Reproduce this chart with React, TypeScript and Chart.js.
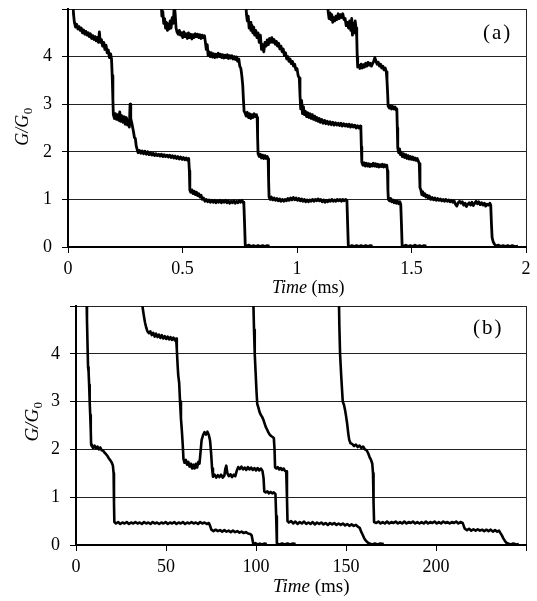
import React, { useEffect, useRef } from 'react';
import { Chart, registerables } from 'chart.js';

Chart.register(...registerables);

const FONT = '"Liberation Serif", "Times New Roman", serif';

// ---------- Panel (a): time in ms ----------
const aXTicks = [0, 0.5, 1, 1.5, 2];
const aXLabels = ['0', '0.5', '1', '1.5', '2'];
const aYTicks = [0, 1, 2, 3, 4, 5];
const aYLabels = ['0', '1', '2', '3', '4', ''];

const a1 = [[0.02,5.3],[0.024,4.9],[0.028,4.72],[0.033,4.62],[0.038,4.68],[0.043,4.58],[0.048,4.63],[0.053,4.55],[0.058,4.6],[0.063,4.5],[0.068,4.56],[0.073,4.47],[0.078,4.53],[0.083,4.45],[0.088,4.5],[0.093,4.42],[0.098,4.48],[0.103,4.38],[0.108,4.44],[0.113,4.36],[0.118,4.42],[0.123,4.33],[0.128,4.4],[0.133,4.3],[0.137,4.52],[0.141,4.3],[0.146,4.36],[0.151,4.22],[0.156,4.3],[0.161,4.15],[0.166,4.24],[0.171,4.08],[0.176,4.14],[0.181,3.98],[0.186,4.06],[0.19,3.95],[0.193,3.6],[0.196,3.1],[0.198,2.78],[0.203,2.7],[0.207,2.8],[0.212,2.68],[0.217,2.78],[0.222,2.66],[0.226,2.84],[0.23,2.64],[0.235,2.76],[0.24,2.62],[0.245,2.74],[0.25,2.58],[0.255,2.72],[0.26,2.56],[0.265,2.66],[0.268,2.52],[0.271,3.0],[0.274,2.7],[0.278,2.62],[0.282,2.52],[0.286,2.42],[0.29,2.3],[0.294,2.28],[0.298,2.12],[0.302,2.05],[0.306,1.98],[0.312,2.03],[0.318,1.97],[0.324,2.02],[0.33,1.96],[0.336,2.01],[0.342,1.95],[0.348,2.0],[0.354,1.94],[0.36,1.98],[0.366,1.93],[0.372,1.97],[0.378,1.92],[0.384,1.96],[0.39,1.92],[0.396,1.95],[0.402,1.91],[0.408,1.95],[0.414,1.9],[0.42,1.94],[0.426,1.9],[0.432,1.93],[0.438,1.89],[0.444,1.93],[0.45,1.88],[0.456,1.92],[0.462,1.87],[0.468,1.91],[0.474,1.86],[0.48,1.9],[0.486,1.85],[0.492,1.89],[0.498,1.84],[0.504,1.88],[0.51,1.83],[0.516,1.87],[0.522,1.82],[0.527,1.86],[0.53,1.6],[0.532,1.2],[0.536,1.15],[0.541,1.2],[0.546,1.12],[0.551,1.17],[0.556,1.1],[0.561,1.15],[0.566,1.08],[0.571,1.12],[0.576,1.05],[0.581,1.09],[0.586,1.0],[0.592,1.03],[0.598,0.96],[0.604,1.0],[0.61,0.95],[0.616,0.99],[0.622,0.94],[0.628,0.98],[0.634,0.94],[0.64,0.98],[0.646,0.93],[0.652,0.97],[0.658,0.94],[0.664,0.98],[0.67,0.93],[0.676,0.97],[0.682,0.94],[0.688,0.98],[0.694,0.93],[0.7,0.97],[0.706,0.92],[0.712,0.96],[0.718,0.93],[0.724,0.97],[0.73,0.92],[0.736,0.96],[0.742,0.93],[0.748,0.97],[0.754,0.94],[0.76,0.98],[0.765,0.94],[0.768,0.9],[0.771,0.5],[0.774,0.04],[0.78,0.02],[0.79,0.04],[0.8,0.01],[0.81,0.03],[0.82,0.01],[0.83,0.03],[0.84,0.01],[0.85,0.03],[0.86,0.01],[0.87,0.03],[0.88,0.02]];

const a2 = [[0.405,5.3],[0.41,4.85],[0.414,4.95],[0.418,4.7],[0.422,4.8],[0.426,4.6],[0.43,4.72],[0.434,4.55],[0.438,4.68],[0.442,4.58],[0.446,4.75],[0.45,4.6],[0.455,4.82],[0.46,4.7],[0.464,5.1],[0.468,4.9],[0.472,4.6],[0.476,4.52],[0.481,4.47],[0.486,4.55],[0.491,4.45],[0.496,4.5],[0.501,4.4],[0.506,4.52],[0.511,4.42],[0.516,4.48],[0.521,4.38],[0.526,4.5],[0.531,4.4],[0.536,4.47],[0.541,4.37],[0.546,4.46],[0.551,4.4],[0.556,4.48],[0.561,4.42],[0.566,4.47],[0.571,4.4],[0.576,4.46],[0.581,4.38],[0.586,4.45],[0.591,4.4],[0.596,4.44],[0.6,4.3],[0.604,4.15],[0.608,4.25],[0.612,4.02],[0.616,4.1],[0.621,4.0],[0.626,4.08],[0.631,3.99],[0.636,4.06],[0.641,3.98],[0.646,4.05],[0.651,3.99],[0.656,4.07],[0.661,4.0],[0.666,4.05],[0.671,3.98],[0.676,4.04],[0.681,3.97],[0.686,4.03],[0.691,3.98],[0.696,4.04],[0.701,3.96],[0.706,4.02],[0.711,3.97],[0.716,4.02],[0.721,3.95],[0.726,4.0],[0.731,3.94],[0.736,3.99],[0.741,3.9],[0.746,3.95],[0.75,3.8],[0.755,3.75],[0.759,3.6],[0.763,3.4],[0.766,3.1],[0.769,2.85],[0.773,2.82],[0.778,2.75],[0.783,2.83],[0.788,2.72],[0.793,2.8],[0.798,2.7],[0.803,2.78],[0.808,2.72],[0.813,2.8],[0.818,2.74],[0.823,2.78],[0.826,2.72],[0.828,2.3],[0.83,1.96],[0.835,1.9],[0.84,1.95],[0.845,1.87],[0.85,1.93],[0.855,1.86],[0.86,1.92],[0.865,1.86],[0.87,1.9],[0.874,1.85],[0.876,1.4],[0.878,1.05],[0.883,1.0],[0.888,1.05],[0.894,0.99],[0.9,1.03],[0.906,0.98],[0.912,1.02],[0.918,0.97],[0.924,1.01],[0.93,0.96],[0.936,1.0],[0.942,0.96],[0.948,1.0],[0.954,0.97],[0.96,1.02],[0.966,0.98],[0.972,1.03],[0.978,0.99],[0.984,1.04],[0.99,0.99],[0.996,1.03],[1.002,0.98],[1.008,1.02],[1.014,0.97],[1.02,1.01],[1.026,0.96],[1.032,1.0],[1.038,0.95],[1.044,0.99],[1.05,0.95],[1.056,0.99],[1.062,0.96],[1.068,1.0],[1.074,0.96],[1.08,1.0],[1.086,0.97],[1.092,1.01],[1.098,0.97],[1.104,1.0],[1.11,0.95],[1.116,0.99],[1.122,0.94],[1.128,0.98],[1.134,0.95],[1.14,0.99],[1.146,0.96],[1.152,1.0],[1.158,0.96],[1.164,0.99],[1.17,0.96],[1.176,1.0],[1.182,0.97],[1.188,1.0],[1.194,0.96],[1.2,1.0],[1.206,0.97],[1.212,1.0],[1.218,0.98],[1.221,0.5],[1.224,0.03],[1.23,0.01],[1.24,0.03],[1.25,0.01],[1.26,0.03],[1.27,0.01],[1.28,0.03],[1.29,0.01],[1.3,0.03],[1.31,0.01],[1.32,0.03],[1.33,0.02]];

const a3 = [[0.775,5.3],[0.779,4.9],[0.783,4.75],[0.787,4.85],[0.791,4.6],[0.795,4.72],[0.799,4.55],[0.803,4.66],[0.807,4.5],[0.811,4.62],[0.815,4.45],[0.82,4.55],[0.825,4.4],[0.83,4.5],[0.835,4.3],[0.84,4.45],[0.845,4.15],[0.85,4.25],[0.855,4.1],[0.86,4.3],[0.865,4.22],[0.87,4.35],[0.875,4.25],[0.88,4.38],[0.885,4.3],[0.89,4.4],[0.895,4.3],[0.9,4.36],[0.905,4.26],[0.91,4.32],[0.915,4.22],[0.92,4.28],[0.925,4.16],[0.93,4.22],[0.935,4.1],[0.94,4.16],[0.945,4.02],[0.95,4.08],[0.955,3.95],[0.96,4.0],[0.965,3.9],[0.97,3.95],[0.975,3.85],[0.98,3.9],[0.985,3.8],[0.99,3.84],[0.995,3.72],[1.0,3.75],[1.005,3.6],[1.01,3.55],[1.013,3.2],[1.016,2.9],[1.02,3.08],[1.024,2.8],[1.028,2.95],[1.032,2.78],[1.037,2.85],[1.042,2.74],[1.047,2.82],[1.052,2.72],[1.057,2.8],[1.062,2.7],[1.067,2.78],[1.072,2.68],[1.077,2.75],[1.082,2.66],[1.087,2.72],[1.092,2.64],[1.097,2.7],[1.102,2.62],[1.108,2.68],[1.114,2.6],[1.12,2.66],[1.126,2.59],[1.132,2.64],[1.138,2.58],[1.144,2.63],[1.15,2.57],[1.156,2.62],[1.162,2.56],[1.168,2.61],[1.174,2.56],[1.18,2.6],[1.186,2.55],[1.192,2.6],[1.198,2.54],[1.204,2.59],[1.21,2.54],[1.216,2.58],[1.222,2.53],[1.228,2.58],[1.234,2.52],[1.24,2.57],[1.246,2.52],[1.252,2.56],[1.258,2.5],[1.264,2.55],[1.27,2.5],[1.276,2.54],[1.279,2.48],[1.281,2.1],[1.283,1.78],[1.288,1.72],[1.293,1.77],[1.298,1.7],[1.303,1.76],[1.308,1.7],[1.313,1.75],[1.318,1.69],[1.323,1.74],[1.328,1.7],[1.333,1.76],[1.338,1.7],[1.343,1.75],[1.348,1.69],[1.353,1.74],[1.358,1.68],[1.363,1.73],[1.368,1.69],[1.373,1.74],[1.378,1.68],[1.383,1.73],[1.388,1.69],[1.392,1.72],[1.395,1.6],[1.397,1.2],[1.399,1.0],[1.404,0.97],[1.409,1.02],[1.414,0.95],[1.419,0.99],[1.424,0.93],[1.429,0.97],[1.434,0.92],[1.439,0.96],[1.444,0.91],[1.449,0.95],[1.453,0.9],[1.456,0.5],[1.459,0.03],[1.465,0.01],[1.475,0.04],[1.485,0.01],[1.495,0.03],[1.505,0.01],[1.515,0.04],[1.525,0.01],[1.535,0.03],[1.545,0.01],[1.555,0.03],[1.565,0.02]];

const a4 = [[1.133,5.3],[1.136,4.95],[1.14,4.8],[1.144,4.92],[1.148,4.78],[1.152,4.88],[1.156,4.72],[1.16,4.82],[1.165,4.75],[1.17,4.85],[1.175,4.78],[1.18,4.9],[1.185,4.8],[1.19,4.88],[1.195,4.82],[1.2,4.9],[1.205,4.78],[1.21,4.8],[1.215,4.65],[1.22,4.72],[1.225,4.6],[1.23,4.75],[1.235,4.55],[1.239,4.8],[1.242,4.45],[1.246,4.7],[1.25,4.5],[1.254,4.75],[1.258,4.6],[1.261,4.4],[1.263,4.0],[1.265,3.78],[1.27,3.82],[1.275,3.75],[1.28,3.84],[1.285,3.76],[1.29,3.83],[1.295,3.78],[1.3,3.86],[1.305,3.8],[1.31,3.88],[1.315,3.82],[1.32,3.86],[1.325,3.8],[1.33,3.85],[1.335,3.9],[1.34,3.98],[1.345,3.9],[1.35,3.84],[1.355,3.88],[1.36,3.8],[1.365,3.84],[1.37,3.76],[1.375,3.8],[1.38,3.72],[1.385,3.76],[1.39,3.68],[1.393,3.5],[1.396,3.2],[1.398,2.96],[1.403,2.92],[1.408,2.97],[1.413,2.9],[1.418,2.95],[1.423,2.9],[1.428,2.94],[1.433,2.88],[1.436,2.9],[1.438,2.5],[1.44,2.08],[1.444,1.98],[1.448,2.06],[1.452,1.94],[1.456,1.98],[1.46,1.9],[1.465,1.96],[1.47,1.88],[1.475,1.94],[1.48,1.86],[1.485,1.92],[1.49,1.85],[1.495,1.9],[1.5,1.84],[1.505,1.89],[1.51,1.83],[1.515,1.87],[1.52,1.82],[1.525,1.86],[1.53,1.8],[1.534,1.75],[1.537,1.25],[1.541,1.2],[1.545,1.1],[1.549,1.16],[1.553,1.08],[1.558,1.12],[1.563,1.05],[1.568,1.09],[1.573,1.03],[1.578,1.07],[1.584,1.0],[1.59,1.04],[1.596,0.99],[1.602,1.03],[1.608,0.98],[1.614,1.02],[1.62,0.98],[1.626,1.01],[1.632,0.97],[1.638,1.0],[1.644,0.96],[1.65,1.0],[1.656,0.96],[1.662,0.99],[1.668,0.95],[1.674,0.98],[1.68,0.94],[1.686,0.97],[1.692,0.9],[1.698,0.86],[1.704,0.93],[1.71,0.96],[1.716,0.92],[1.722,0.95],[1.728,0.88],[1.734,0.92],[1.74,0.85],[1.746,0.9],[1.752,0.93],[1.758,0.88],[1.764,0.94],[1.77,0.87],[1.776,0.92],[1.782,0.96],[1.788,0.91],[1.794,0.95],[1.8,0.89],[1.806,0.93],[1.812,0.88],[1.818,0.92],[1.824,0.86],[1.83,0.9],[1.836,0.88],[1.842,0.92],[1.846,0.88],[1.849,0.5],[1.852,0.2],[1.856,0.12],[1.862,0.06],[1.87,0.02],[1.88,0.04],[1.89,0.01],[1.9,0.03],[1.91,0.01],[1.92,0.03],[1.93,0.01],[1.94,0.03],[1.95,0.01],[1.965,0.02]];

// ---------- Panel (b): time in ms ----------
const bXTicks = [0, 50, 100, 150, 200, 250];
const bXLabels = ['0', '50', '100', '150', '200', ''];
const bYTicks = [0, 1, 2, 3, 4, 5];
const bYLabels = ['0', '1', '2', '3', '4', ''];

const b1 = [[5.8,5.3],[6.1,4.7],[6.4,4.2],[6.7,3.72],[7.0,3.62],[7.3,3.35],[7.6,3.0],[7.9,2.72],[8.2,2.4],[8.4,2.1],[8.8,2.07],[9.5,2.03],[10.3,2.08],[11.1,2.02],[11.9,2.06],[12.7,2.0],[13.5,2.04],[14.3,1.98],[15.1,1.97],[15.9,1.93],[16.7,1.9],[17.5,1.86],[18.3,1.81],[19.1,1.77],[19.9,1.72],[20.5,1.66],[20.9,1.5],[21.1,0.9],[21.3,0.48],[22.2,0.45],[23.4,0.48],[24.6,0.44],[25.8,0.47],[27,0.45],[28.2,0.48],[29.4,0.44],[30.6,0.47],[31.8,0.45],[33,0.48],[34.2,0.45],[35.4,0.47],[36.6,0.44],[37.8,0.48],[39,0.45],[40.2,0.47],[41.4,0.44],[42.6,0.48],[43.8,0.45],[45,0.47],[46.2,0.44],[47.4,0.47],[48.6,0.45],[49.8,0.48],[51,0.44],[52.2,0.47],[53.4,0.45],[54.6,0.48],[55.8,0.44],[57,0.47],[58.2,0.45],[59.4,0.48],[60.6,0.44],[61.8,0.47],[63,0.45],[64.2,0.48],[65.4,0.45],[66.6,0.47],[67.8,0.44],[69,0.48],[70.2,0.45],[71.4,0.47],[72.6,0.44],[73.8,0.46],[74.5,0.4],[75.2,0.32],[76.4,0.29],[77.6,0.32],[78.8,0.29],[80,0.31],[81.2,0.28],[82.4,0.31],[83.6,0.28],[84.8,0.3],[86,0.27],[87.2,0.3],[88.4,0.27],[89.6,0.29],[90.8,0.26],[92,0.28],[93.2,0.25],[94.4,0.27],[95.6,0.24],[96.8,0.23],[97.6,0.2],[98.1,0.1],[98.5,0.02],[99.7,0.04],[100.9,0.01],[102.1,0.03],[103.3,0.01],[104.5,0.03],[106,0.02]];

const b2 = [[36.3,5.3],[36.9,5.0],[37.6,4.82],[38.3,4.66],[39.0,4.55],[39.7,4.47],[40.5,4.43],[41.3,4.47],[42.1,4.39],[42.9,4.44],[43.7,4.36],[44.5,4.42],[45.3,4.35],[46.1,4.4],[46.9,4.33],[47.7,4.39],[48.5,4.32],[49.3,4.37],[50.1,4.31],[50.9,4.36],[51.7,4.3],[52.5,4.35],[53.3,4.29],[54.1,4.34],[54.9,4.28],[55.6,4.32],[56.0,4.1],[56.4,3.8],[56.8,3.55],[57.3,3.4],[57.8,3.0],[58.3,2.65],[58.8,2.4],[59.3,2.1],[59.7,1.8],[60.3,1.72],[61.0,1.78],[61.7,1.68],[62.4,1.74],[63.1,1.64],[63.8,1.7],[64.5,1.6],[65.2,1.68],[65.9,1.6],[66.6,1.7],[67.3,1.62],[68.0,1.74],[68.6,1.7],[69.2,1.95],[69.8,2.2],[70.6,2.3],[71.4,2.36],[72.2,2.31],[73.0,2.37],[73.8,2.3],[74.5,2.18],[75.1,1.9],[75.6,1.6],[76.1,1.43],[77,1.47],[77.9,1.41],[78.8,1.46],[79.7,1.42],[80.6,1.47],[81.5,1.41],[82.4,1.45],[83.0,1.6],[83.5,1.66],[84.1,1.5],[84.9,1.44],[85.8,1.48],[86.7,1.42],[87.6,1.47],[88.5,1.44],[89.3,1.55],[90.1,1.63],[91,1.59],[91.9,1.64],[92.8,1.58],[93.7,1.62],[94.6,1.57],[95.5,1.63],[96.4,1.58],[97.3,1.62],[98.2,1.57],[99.1,1.61],[100,1.56],[100.9,1.61],[101.8,1.56],[102.7,1.6],[103.6,1.55],[104.2,1.4],[104.6,1.12],[105.4,1.1],[106.3,1.12],[107.2,1.08],[108.1,1.11],[109,1.08],[109.9,1.1],[110.8,1.07],[111.2,0.6],[111.6,0.03],[113,0.01],[114.5,0.03],[116,0.01],[117.5,0.03],[119,0.01],[120.5,0.03],[122,0.02]];

const b3 = [[98.4,5.3],[98.9,4.5],[99.3,4.0],[99.8,3.6],[100.3,3.2],[100.7,2.95],[101.3,2.88],[102.0,2.78],[102.7,2.72],[103.4,2.68],[104.1,2.62],[104.8,2.54],[105.4,2.47],[106.1,2.42],[106.8,2.36],[107.6,2.31],[108.4,2.28],[109.2,2.26],[109.9,2.24],[110.3,2.0],[110.6,1.62],[111.3,1.6],[112.1,1.63],[112.9,1.58],[113.7,1.61],[114.5,1.57],[115.3,1.6],[116.1,1.55],[116.8,1.54],[117.2,1.0],[117.5,0.5],[118.3,0.47],[119.5,0.5],[120.7,0.45],[121.9,0.49],[123.1,0.44],[124.3,0.48],[125.5,0.45],[126.7,0.49],[127.9,0.44],[129.1,0.47],[130.3,0.44],[131.5,0.48],[132.7,0.43],[133.9,0.47],[135.1,0.44],[136.3,0.47],[137.5,0.43],[138.7,0.46],[139.9,0.42],[141.1,0.46],[142.3,0.43],[143.5,0.46],[144.7,0.42],[145.9,0.45],[147.1,0.42],[148.3,0.45],[149.5,0.41],[150.7,0.44],[151.9,0.4],[153.1,0.43],[154.3,0.4],[155.5,0.42],[156.7,0.38],[157.6,0.36],[158.4,0.28],[159.2,0.22],[160,0.15],[160.8,0.1],[161.8,0.06],[163,0.03],[164.5,0.01],[166,0.03],[167.5,0.01],[169,0.03],[171,0.02]];

const b4 = [[146.0,5.3],[146.3,4.6],[146.7,4.0],[147.4,3.5],[148.2,3.0],[148.9,2.93],[149.5,2.82],[150.1,2.68],[150.7,2.52],[151.3,2.32],[151.8,2.2],[152.5,2.13],[153.5,2.11],[154.5,2.07],[155.5,2.1],[156.5,2.05],[157.5,2.08],[158.5,2.03],[159.5,2.06],[160.5,2.0],[161.5,1.98],[162.3,1.92],[163.1,1.84],[163.9,1.78],[164.6,1.7],[165.0,1.5],[165.3,0.9],[165.6,0.48],[166.8,0.46],[168.0,0.49],[169.2,0.45],[170.4,0.48],[171.6,0.45],[172.8,0.49],[174,0.45],[175.2,0.48],[176.4,0.46],[177.6,0.49],[178.8,0.45],[180,0.48],[181.2,0.45],[182.4,0.49],[183.6,0.45],[184.8,0.48],[186,0.46],[187.2,0.49],[188.4,0.45],[189.6,0.48],[190.8,0.45],[192,0.48],[193.2,0.45],[194.4,0.49],[195.6,0.45],[196.8,0.48],[198,0.46],[199.2,0.49],[200.4,0.45],[201.6,0.48],[202.8,0.45],[204,0.49],[205.2,0.46],[206.4,0.48],[207.6,0.45],[208.8,0.48],[210,0.46],[211.2,0.49],[212.4,0.45],[213.6,0.48],[214.8,0.46],[215.4,0.4],[216,0.34],[217.2,0.31],[218.4,0.34],[219.6,0.3],[220.8,0.33],[222,0.3],[223.2,0.33],[224.4,0.3],[225.6,0.32],[226.8,0.29],[228,0.32],[229.2,0.29],[230.4,0.32],[231.6,0.28],[232.8,0.31],[234,0.28],[235,0.3],[235.8,0.25],[236.6,0.2],[237.4,0.14],[238.2,0.09],[239,0.05],[240,0.03],[241.5,0.01],[243,0.03],[244.5,0.01],[246,0.02]];

type PanelCfg = {
  width: number;
  height: number;
  traces: number[][][];
  lineWidth: number;
  xTicks: number[];
  xLabels: string[];
  yTicks: number[];
  yLabels: string[];
  plotLeft: number;
  plotRight: number;
  plotTop: number;
  plotBottom: number;
  tickFont: number;
  label: string;
  labelX: number;
  labelY: number;
  labelFont: number;
  xTitleX: number;
  xTitleY: number;
  yTitleX: number;
  yTitleY: number;
  titleFont: number;
};

function buildChart(canvas: HTMLCanvasElement, p: PanelCfg) {
  const xMin = p.xTicks[0];
  const xMax = p.xTicks[p.xTicks.length - 1];
  const yMin = p.yTicks[0];
  const yMax = p.yTicks[p.yTicks.length - 1];

  const titlePlugin = {
    id: 'panelTitles',
    afterDraw(chart: any) {
      const ctx = chart.ctx as CanvasRenderingContext2D;
      ctx.save();
      ctx.fillStyle = '#000';
      ctx.textBaseline = 'alphabetic';
      ctx.textAlign = 'left';
      // panel label
      ctx.font = `${p.labelFont}px ${FONT}`;
      (ctx as any).letterSpacing = '2px';
      ctx.fillText(p.label, p.labelX, p.labelY);
      (ctx as any).letterSpacing = '0px';
      // x title
      ctx.font = `italic ${p.titleFont}px ${FONT}`;
      ctx.fillText('Time', p.xTitleX, p.xTitleY);
      const wT = ctx.measureText('Time').width;
      ctx.font = `${p.titleFont}px ${FONT}`;
      ctx.fillText(' (ms)', p.xTitleX + wT, p.xTitleY);
      // y title (rotated)
      ctx.translate(p.yTitleX, p.yTitleY);
      ctx.rotate(-Math.PI / 2);
      ctx.font = `italic ${p.titleFont}px ${FONT}`;
      const w1 = ctx.measureText('G/G').width;
      const subSize = Math.round(p.titleFont * 0.7);
      ctx.font = `${subSize}px ${FONT}`;
      const w2 = ctx.measureText('0').width;
      const start = -(w1 + w2) / 2;
      ctx.font = `italic ${p.titleFont}px ${FONT}`;
      ctx.fillText('G/G', start, 0);
      ctx.font = `${subSize}px ${FONT}`;
      ctx.fillText('0', start + w1 + 0.5, 4);
      ctx.restore();
    },
  };

  return new Chart(canvas, {
    type: 'line',
    data: {
      datasets: p.traces.map((t) => ({
        data: t.map(([x, y]) => ({ x, y })),
        borderColor: '#000',
        borderWidth: p.lineWidth,
        pointRadius: 0,
        tension: 0,
        fill: false,
        clip: { left: 0, top: 0, right: 0, bottom: 4 } as any,
        borderJoinStyle: 'round' as const,
      })),
    },
    options: {
      animation: false,
      responsive: false,
      devicePixelRatio: 1,
      events: [],
      layout: {
        padding: { top: p.plotTop, right: p.width - p.plotRight, left: 0, bottom: 0 },
      },
      plugins: { legend: { display: false }, tooltip: { enabled: false } },
      scales: {
        x: {
          type: 'linear',
          min: xMin,
          max: xMax,
          afterBuildTicks: (s: any) => {
            s.ticks = p.xTicks.map((v) => ({ value: v }));
          },
          afterFit: (s: any) => {
            s.height = p.height - p.plotBottom;
            s.paddingLeft = 0;
            s.paddingRight = 0;
          },
          ticks: {
            autoSkip: false,
            maxRotation: 0,
            padding: 5,
            color: '#000',
            font: { family: FONT, size: p.tickFont },
            callback: (v: any) => {
              const i = p.xTicks.indexOf(Number(v));
              return i >= 0 ? p.xLabels[i] : '';
            },
          },
          grid: {
            color: (c: any) => (c.tick && c.tick.value === xMax ? '#222' : 'rgba(0,0,0,0)'),
            tickColor: '#000',
            tickLength: 6,
            lineWidth: 1,
            drawTicks: true,
          },
          border: { display: true, color: '#000', width: 2 },
        },
        y: {
          type: 'linear',
          min: yMin,
          max: yMax,
          afterBuildTicks: (s: any) => {
            s.ticks = p.yTicks.map((v) => ({ value: v }));
          },
          afterFit: (s: any) => {
            s.width = p.plotLeft;
            s.paddingTop = 0;
            s.paddingBottom = 0;
          },
          ticks: {
            autoSkip: false,
            padding: 10,
            color: '#000',
            font: { family: FONT, size: p.tickFont },
            callback: (v: any) => {
              const i = p.yTicks.indexOf(Number(v));
              return i >= 0 ? p.yLabels[i] : '';
            },
          },
          grid: {
            color: '#222',
            tickColor: '#000',
            tickLength: 6,
            lineWidth: 1,
          },
          border: { display: true, color: '#000', width: 2 },
        },
      },
    },
    plugins: [titlePlugin],
  } as any);
}

const panelA: PanelCfg = {
  width: 537,
  height: 300,
  traces: [a1, a2, a3, a4],
  lineWidth: 2.8,
  xTicks: aXTicks,
  xLabels: aXLabels,
  yTicks: aYTicks,
  yLabels: aYLabels,
  plotLeft: 68,
  plotRight: 526,
  plotTop: 9,
  plotBottom: 247,
  tickFont: 18,
  label: '(a)',
  labelX: 483,
  labelY: 39,
  labelFont: 21,
  xTitleX: 272,
  xTitleY: 293,
  yTitleX: 28,
  yTitleY: 127,
  titleFont: 18,
};

const panelB: PanelCfg = {
  width: 537,
  height: 301,
  traces: [b1, b2, b3, b4],
  lineWidth: 2.6,
  xTicks: bXTicks,
  xLabels: bXLabels,
  yTicks: bYTicks,
  yLabels: bYLabels,
  plotLeft: 76,
  plotRight: 526,
  plotTop: 6,
  plotBottom: 245,
  tickFont: 18,
  label: '(b)',
  labelX: 473,
  labelY: 34,
  labelFont: 21,
  xTitleX: 273,
  xTitleY: 292,
  yTitleX: 38,
  yTitleY: 122,
  titleFont: 19,
};

function Panel({ cfg }: { cfg: PanelCfg }) {
  const ref = useRef<HTMLCanvasElement | null>(null);
  useEffect(() => {
    if (!ref.current) return;
    const chart = buildChart(ref.current, cfg);
    return () => chart.destroy();
  }, [cfg]);
  return (
    <canvas
      ref={ref}
      width={cfg.width}
      height={cfg.height}
      style={{ display: 'block', width: cfg.width, height: cfg.height }}
    />
  );
}

export default function App() {
  return (
    <div
      style={{
        position: 'fixed',
        left: 0,
        top: 0,
        width: 537,
        height: 601,
        background: '#fff',
      }}
    >
      <Panel cfg={panelA} />
      <Panel cfg={panelB} />
    </div>
  );
}
